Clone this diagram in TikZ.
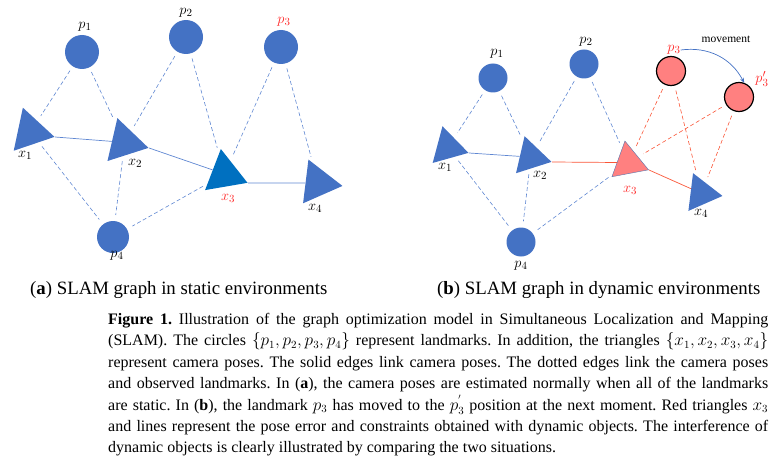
\documentclass[tikz,border=0pt]{standalone}
\usepackage{fontspec}
\setmainfont{Liberation Serif}
\usetikzlibrary{shapes.geometric,arrows.meta}
\definecolor{lmblue}{RGB}{68,114,196}
\definecolor{xblue}{RGB}{0,112,192}
\definecolor{lmpink}{RGB}{255,128,128}
\definecolor{edgeblue}{RGB}{95,135,210}
\definecolor{edgered}{RGB}{250,85,55}
\definecolor{lblred}{RGB}{255,40,40}
\frenchspacing

\begin{document}
\begin{tikzpicture}[x=1pt,y=-1pt,
    landmark/.style={circle,fill=lmblue,inner sep=0pt,minimum size=34pt},
    pose/.style={isosceles triangle,isosceles triangle stretches,inner sep=0pt,
      minimum width=44pt,minimum height=37pt,fill=lmblue,anchor=apex},
    lbl/.style={inner sep=0pt,font=\fontsize{15}{15}\selectfont},
    obs/.style={draw=edgeblue,line width=.6pt,dash pattern=on 4pt off 2.5pt,
      shorten <=5pt,shorten >=6pt},
    link/.style={draw=edgeblue,line width=.7pt}]
  \useasboundingbox (0,0) rectangle (776,468);

  % (a) static
  \node[landmark] (p1) at (82,52) {};
  \node[landmark] (p2) at (186,37) {};
  \node[landmark] (p3) at (281,47) {};
  \node[landmark,minimum size=32pt] (p4) at (113,237) {};
  \node[pose,rotate=-12] (x1) at (55,137) {};
  \node[pose,rotate=-13] (x2) at (149,148) {};
  \node[pose,rotate=-21,fill=xblue] (x3) at (248,183) {};
  \node[pose,rotate=-7] (x4) at (343,186) {};
  \node[lbl] (lp1) at (85,27) {$p_1$};
  \node[lbl] (lp2) at (186,13) {$p_2$};
  \node[lbl,text=lblred] (lp3) at (284,22) {$p_3$};
  \node[lbl] (lp4) at (117,256) {$p_4$};
  \node[lbl] (lx1) at (25,155) {$x_1$};
  \node[lbl] (lx2) at (135,163) {$x_2$};
  \node[lbl,text=lblred] (lx3) at (228,198) {$x_3$};
  \node[lbl] (lx4) at (315,208) {$x_4$};
  \draw[obs] (p1) -- (x1);
  \draw[obs] (p1) -- (x2);
  \draw[obs] (p2) -- (x2);
  \draw[obs] (p2) -- (x3);
  \draw[obs] (p3) -- (x3);
  \draw[obs] (p3) -- (x4);
  \draw[obs] (x1) -- (p4);
  \draw[obs] (x2) -- (p4);
  \draw[obs] (x3) -- (p4);
  \draw[link] (x1.apex) -- (x2);
  \draw[link] (x2.apex) -- (x3);
  \draw[link] (x3.apex) -- (x4);

  % (b) dynamic
  \begin{scope}[shift={(400,0)},
      landmark/.append style={minimum size=29pt},
      pose/.append style={minimum width=38pt,minimum height=32pt}]
    \node[landmark] (p1b) at (93,78) {};
    \node[landmark] (p2b) at (184,64) {};
    \node[landmark,fill=lmpink,draw=black,line width=1.2pt] (p3b) at (271,71) {};
    \node[landmark,fill=lmpink,draw=black,line width=1.2pt] (p3pb) at (339,97) {};
    \node[landmark] (p4b) at (121,242) {};
    \node[pose,rotate=-15] (x1b) at (69,153) {};
    \node[pose,rotate=-13] (x2b) at (152,162) {};
    \node[pose,rotate=-20,fill=lmpink,draw=lmblue!70!gray,line width=.4pt] (x3b) at (249,170) {};
    \node[pose,rotate=-7] (x4b) at (323,196) {};
    \node[lbl] (lp1b) at (97,54) {$p_1$};
    \node[lbl] (lp2b) at (186,42) {$p_2$};
    \node[lbl,text=lblred] (lp3b) at (274,50) {$p_3$};
    \node[lbl,text=lblred] (lp3pb) at (362,79) {$p_3'$};
    \node[lbl] (lp4b) at (121,266) {$p_4$};
    \node[inner sep=0pt,font=\fontsize{11.5}{12}\selectfont] (lmove) at (326,39) {movement};
    \node[lbl] (lx1b) at (45,167) {$x_1$};
    \node[lbl] (lx2b) at (140,175) {$x_2$};
    \node[lbl,text=lblred] (lx3b) at (230,190) {$x_3$};
    \node[lbl] (lx4b) at (301,213) {$x_4$};
    \draw[obs] (p1b) -- (x1b);
    \draw[obs] (p1b) -- (x2b);
    \draw[obs] (p2b) -- (x2b);
    \draw[obs] (p2b) -- (x3b);
    \draw[obs] (x1b) -- (p4b);
    \draw[obs] (x2b) -- (p4b);
    \draw[obs] (x3b) -- (p4b);
    \draw[obs,draw=edgered] (p3b) -- (x3b);
    \draw[obs,draw=edgered] (p3b) -- (x4b);
    \draw[obs,draw=edgered] (p3pb) -- (x3b);
    \draw[obs,draw=edgered] (p3pb) -- (x4b);
    \draw[link] (x1b.apex) -- (x2b);
    \draw[link,draw=edgered] (x2b.apex) -- (x3b);
    \draw[link,draw=edgered] (x3b.apex) -- (x4b);
    \draw[lmblue,line width=.7pt,-{Stealth[length=5pt,width=4pt]}] (lp3b.east) to[bend left=35] (p3pb.70);
  \end{scope}

  % captions
  \node[anchor=base west,inner sep=0pt,font=\fontsize{18.8}{20}\selectfont] (capa) at (30,294)
    {(\textbf{a}) SLAM graph in static environments};
  \node[anchor=base west,inner sep=0pt,font=\fontsize{18.8}{20}\selectfont] (capb) at (437,294)
    {(\textbf{b}) SLAM graph in dynamic environments};
  \node[anchor=north west,inner sep=0pt,text width=660pt,align=justify,
    font=\fontsize{16}{21.4}\selectfont] (fig) at (108,313)
    {\textbf{Figure 1.} Illustration of the graph optimization model in Simultaneous Localization and Mapping\linebreak
    (SLAM). The circles $\{p_1,p_2,p_3,p_4\}$ represent landmarks. In addition, the triangles $\{x_1,x_2,x_3,x_4\}$\linebreak
    represent camera poses. The solid edges link camera poses. The dotted edges link the camera poses\linebreak
    and observed landmarks. In (\textbf{a}), the camera poses are estimated normally when all of the landmarks\linebreak
    are static. In (\textbf{b}), the landmark $p_3$ has moved to the $p_3^{'}$ position at the next moment. Red triangles $x_3$\linebreak
    and lines represent the pose error and constraints obtained with dynamic objects. The interference of\linebreak
    dynamic objects is clearly illustrated by comparing the two situations.};
\end{tikzpicture}
\end{document}
